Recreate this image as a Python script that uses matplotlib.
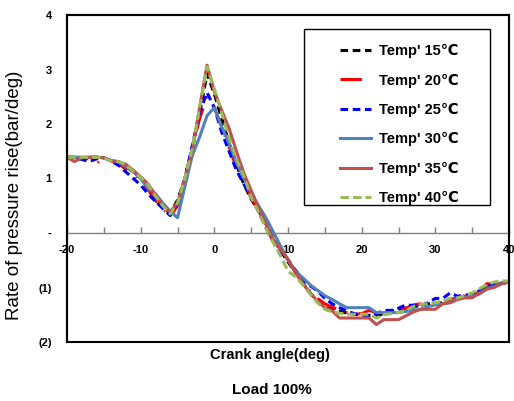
import numpy as np
import matplotlib.pyplot as plt
from matplotlib.patches import Rectangle

plt.rcParams['font.family'] = ['Liberation Sans', 'DejaVu Sans']
plt.rcParams['axes.unicode_minus'] = False

# crank angle (deg)
crank = list(range(-20, 41))

t15 = [1.39, 1.39, 1.38, 1.39, 1.39, 1.38, 1.33, 1.30, 1.22, 1.12,
       1.02, 0.82, 0.58, 0.48, 0.36, 0.60, 1.00, 1.55, 2.20, 2.92,
       2.55, 2.10, 1.65, 1.25, 0.90, 0.62, 0.42, 0.17, -0.10, -0.33,
       -0.53, -0.72, -0.92, -1.10, -1.25, -1.33, -1.39, -1.43, -1.47, -1.49,
       -1.50, -1.51, -1.52, -1.48, -1.44, -1.40, -1.38, -1.36, -1.32, -1.30,
       -1.30, -1.28, -1.24, -1.20, -1.17, -1.15, -1.08, -1.00, -0.95, -0.92,
       -0.90]
t20 = [1.39, 1.39, 1.38, 1.36, 1.28, 1.36, 1.32, 1.27, 1.17, 1.05,
       0.95, 0.80, 0.60, 0.45, 0.30, 0.50, 1.00, 1.55, 2.10, 2.50,
       2.30, 1.95, 1.58, 1.20, 0.92, 0.68, 0.40, 0.10, -0.15, -0.30,
       -0.50, -0.72, -0.92, -1.07, -1.20, -1.30, -1.36, -1.42, -1.46, -1.48,
       -1.48, -1.42, -1.46, -1.48, -1.45, -1.42, -1.38, -1.32, -1.30, -1.30,
       -1.28, -1.25, -1.22, -1.19, -1.15, -1.12, -1.05, -0.93, -0.95, -0.92,
       -0.90]
t25 = [1.39, 1.38, 1.35, 1.31, 1.36, 1.38, 1.32, 1.24, 1.12, 1.00,
       0.88, 0.72, 0.58, 0.45, 0.32, 0.55, 1.00, 1.60, 2.20, 2.58,
       2.30, 1.85, 1.50, 1.15, 0.90, 0.65, 0.40, 0.12, -0.15, -0.32,
       -0.49, -0.68, -0.85, -0.97, -1.06, -1.20, -1.30, -1.37, -1.43, -1.48,
       -1.50, -1.52, -1.48, -1.42, -1.42, -1.38, -1.32, -1.33, -1.33, -1.28,
       -1.20, -1.20, -1.10, -1.16, -1.14, -1.12, -1.06, -0.98, -0.95, -0.92,
       -0.90]
t30 = [1.39, 1.39, 1.39, 1.39, 1.39, 1.38, 1.33, 1.30, 1.22, 1.12,
       1.00, 0.82, 0.72, 0.55, 0.40, 0.28, 0.85, 1.42, 1.76, 2.15,
       2.30, 1.95, 1.65, 1.30, 1.00, 0.75, 0.50, 0.28, 0.02, -0.24,
       -0.50, -0.70, -0.82, -0.95, -1.05, -1.15, -1.22, -1.30, -1.37, -1.37,
       -1.37, -1.37, -1.46, -1.46, -1.46, -1.46, -1.44, -1.42, -1.40, -1.35,
       -1.32, -1.30, -1.27, -1.20, -1.18, -1.16, -1.12, -1.02, -0.98, -0.93,
       -0.90]
t35 = [1.39, 1.31, 1.38, 1.39, 1.39, 1.38, 1.33, 1.31, 1.26, 1.15,
       1.03, 0.90, 0.70, 0.50, 0.39, 0.55, 1.00, 1.50, 2.30, 3.08,
       2.60, 2.25, 1.92, 1.50, 1.10, 0.78, 0.46, 0.17, -0.12, -0.30,
       -0.48, -0.72, -0.92, -1.10, -1.25, -1.37, -1.43, -1.56, -1.56, -1.56,
       -1.56, -1.56, -1.68, -1.59, -1.59, -1.59, -1.52, -1.45, -1.40, -1.40,
       -1.40, -1.30, -1.28, -1.22, -1.19, -1.19, -1.10, -1.03, -1.00, -0.93,
       -0.90]
t40 = [1.39, 1.39, 1.39, 1.39, 1.39, 1.38, 1.32, 1.31, 1.25, 1.13,
       1.02, 0.88, 0.68, 0.50, 0.35, 0.55, 1.00, 1.55, 2.30, 3.05,
       2.65, 2.20, 1.75, 1.35, 1.05, 0.65, 0.38, 0.08, -0.18, -0.42,
       -0.70, -0.80, -0.95, -1.12, -1.28, -1.40, -1.45, -1.47, -1.49, -1.49,
       -1.49, -1.49, -1.56, -1.50, -1.48, -1.46, -1.42, -1.35, -1.31, -1.30,
       -1.28, -1.25, -1.20, -1.19, -1.15, -1.10, -1.02, -0.95, -0.90, -0.88,
       -0.88]

labels = ["Temp' 15\u2103", "Temp' 20\u2103", "Temp' 25\u2103",
          "Temp' 30\u2103", "Temp' 35\u2103", "Temp' 40\u2103"]
y_ticks = [4, 3, 2, 1, 0, -1, -2]
y_ticklabels = ['4', '3', '2', '1', '-', '(1)', '(2)']

styles = [
    dict(color='black', lw=2.2, dashes=(2.5, 1.5)),
    dict(color='#FF0000', lw=2.2, dashes=(7, 3.5, 0.5, 3.5)),
    dict(color='#0000FF', lw=2.2, dashes=(2.5, 1.5)),
    dict(color='#4F81BD', lw=2.2),
    dict(color='#C0504D', lw=2.2),
    dict(color='#9BBB59', lw=2.2, dashes=(2.8, 1.3)),
]

fig = plt.figure(figsize=(5.14, 4.01), dpi=100)
ax = fig.add_axes([67 / 514, 1 - 342 / 401, 442 / 514, 327 / 401])

for ys, lab, st in zip([t15, t20, t25, t30, t35, t40], labels, styles):
    ax.plot(crank, ys, label=lab, **st)

ax.set_xlim(-20, 40)
ax.set_ylim(-2, 4)

# x axis drawn at zero, plot area boxed in black
ax.spines['bottom'].set_position(('data', 0))
ax.spines['bottom'].set_color('#808080')
ax.spines['bottom'].set_linewidth(1.0)
for s in ['top', 'left', 'right']:
    ax.spines[s].set_linewidth(1.5)
ax.add_patch(Rectangle((0, 0), 1, 1, transform=ax.transAxes, fill=False,
                       ec='black', lw=1.5, clip_on=False, zorder=5))

ax.set_xticks(np.arange(-20, 41, 10))
ax.set_xticks(np.arange(-20, 41, 5), minor=True)
ax.tick_params(axis='x', which='both', direction='in', length=4, width=1,
               color='#808080', pad=9, labelsize=8)
ax.set_yticks(y_ticks)
ax.set_yticklabels(y_ticklabels)
ax.tick_params(axis='y', length=0, pad=11, labelsize=8)
for t in ax.get_xticklabels() + ax.get_yticklabels():
    t.set_fontweight('bold')

fig.text(15 / 514, 1 - 195 / 401, 'Rate of pressure rise(bar/deg)', rotation=90,
         ha='center', va='center', fontsize=13.5)
fig.text(270 / 514, 1 - 355 / 401, 'Crank angle(deg)', ha='center', va='center',
         fontsize=10.5, fontweight='bold')
fig.text(272 / 514, 1 - 390 / 401, 'Load 100%', ha='center', va='center',
         fontsize=11, fontweight='bold')

# legend box
ax.add_patch(Rectangle((304 / 514, 1 - 205 / 401), 186 / 514, 176 / 401,
                       transform=fig.transFigure, fill=True, fc='white',
                       ec='black', lw=1.0, clip_on=False, zorder=6))
leg = ax.legend(loc='upper left', bbox_to_anchor=(340 / 514, 1 - 44 / 401),
                bbox_transform=fig.transFigure, frameon=False, borderpad=0,
                borderaxespad=0, handlelength=2.1, handletextpad=0.55,
                labelspacing=1.05, prop={'weight': 'bold', 'size': 10.5})
leg.set_zorder(7)

fig.savefig('out.png', dpi=100)
